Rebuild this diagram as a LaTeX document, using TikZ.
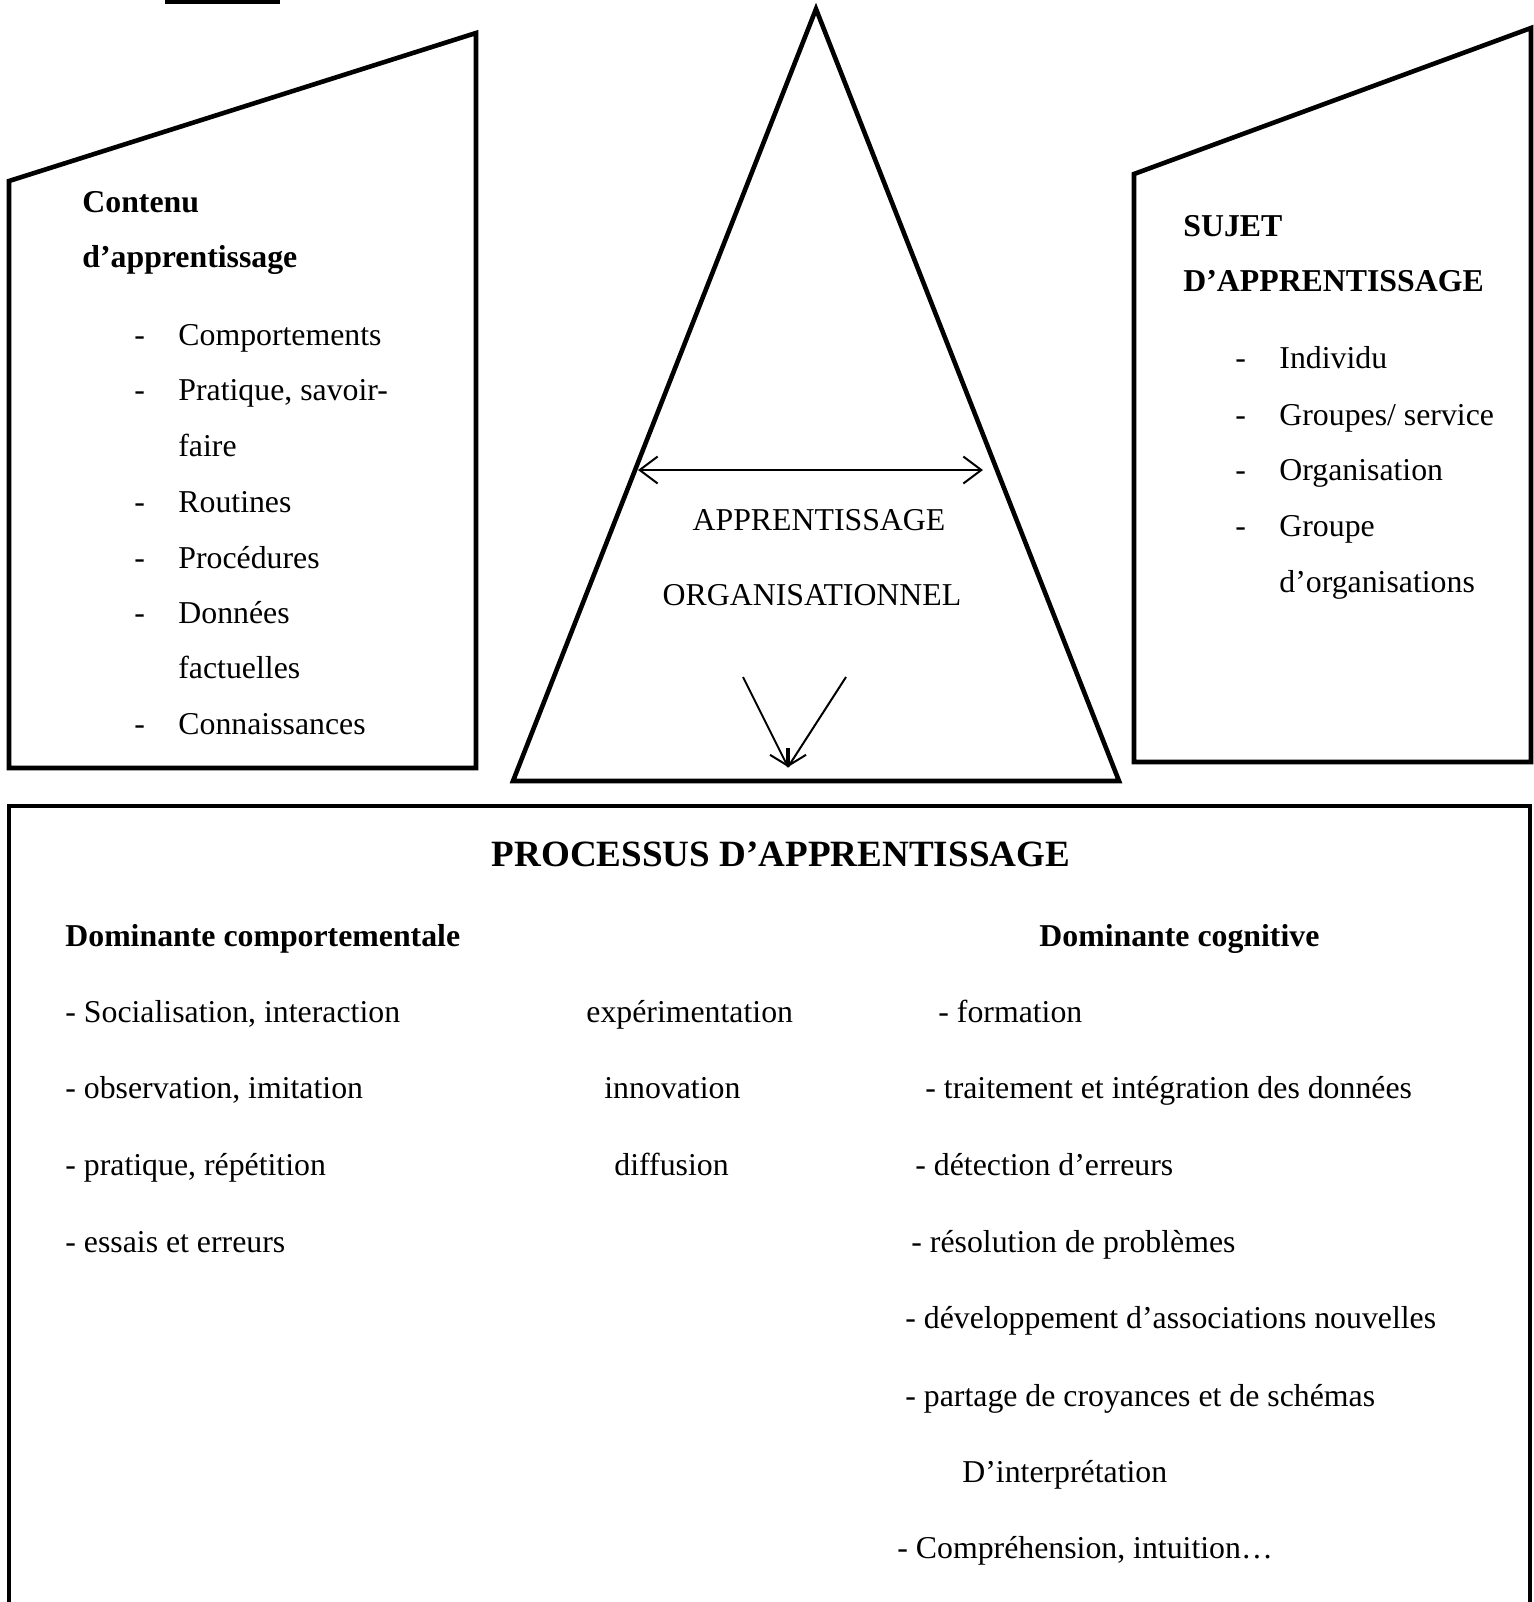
\documentclass[tikz,border=0pt]{standalone}
\usepackage{fontspec}
\setmainfont{Liberation Serif}
\usetikzlibrary{arrows.meta}
\tikzset{
  frame/.style={draw, line width=2.3pt, line join=miter},
  txt/.style={font=\fontsize{15.9}{19}\selectfont, anchor=base west, inner sep=0pt},
  bld/.style={txt, font=\fontsize{15.9}{19}\selectfont\bfseries},
  ttl/.style={font=\fontsize{18.55}{22}\selectfont\bfseries, anchor=base, inner sep=0pt},
  ctr/.style={font=\fontsize{15.9}{19}\selectfont, anchor=base, inner sep=0pt},
  thin/.style={draw, line width=1pt},
  barb/.style={-{Straight Barb[length=9pt,width=13.5pt,line width=1pt]}},
}
\begin{document}
\begin{tikzpicture}[x=0.5pt,y=-0.5pt]
\useasboundingbox (0,0) rectangle (1534,1602);

% underline of the heading above the figure
\fill (165,0) rectangle (280,4);

% left panel: learning content
\draw[frame] (9,768) -- (9,181) -- (476,33) -- (476,768) -- cycle;
\node[bld] (c1) at (82,212) {Contenu};
\node[bld] (c2) at (82,267) {d’apprentissage};
\foreach \y/\t in {345/Comportements, 400/{Pratique, savoir-}, 512/Routines,
                   568/Procédures, 623/Données, 734/Connaissances}
  \node[txt] at (134,\y) {-};
\foreach \y/\t in {345/Comportements, 400/{Pratique, savoir-}, 456/faire, 512/Routines,
                   568/Procédures, 623/Données, 678/factuelles, 734/Connaissances}
  \node[txt] at (178,\y) {\t};

% central triangle: organisational learning
\draw[frame] (513,781) -- (816,9) -- (1119,781) -- cycle;
\coordinate (hl) at (638,470);
\coordinate (hr) at (983,470);
\draw[thin, {Straight Barb[length=9pt,width=13.5pt,line width=1pt]}-{Straight Barb[length=9pt,width=13.5pt,line width=1pt]}] (hl) -- (hr);
\node[ctr] (a1) at (819,530) {APPRENTISSAGE};
\node[ctr] (a2) at (812,605) {ORGANISATIONNEL};
\coordinate (va) at (743,677);
\coordinate (vb) at (846,677);
\coordinate (vt) at (788,767);
\coordinate (vs) at (788,748);
\draw[thin] (va) -- (vt);
\draw[thin] (vb) -- (vt);
\draw[line width=2pt, -{Straight Barb[length=5.5pt,width=18pt,line width=1pt]}] (vs) -- (vt);

% right panel: learning subject
\draw[frame] (1134,762) -- (1134,174) -- (1531,28) -- (1531,762) -- cycle;
\node[bld] (s1) at (1183,236) {SUJET};
\node[bld] (s2) at (1183,291) {D’APPRENTISSAGE};
\foreach \y in {368,425,480,536}
  \node[txt] at (1235,\y) {-};
\foreach \y/\t in {368/Individu, 425/{Groupes/ service}, 480/Organisation, 536/Groupe, 592/d’organisations}
  \node[txt] at (1279,\y) {\t};

% bottom panel: learning processes
\draw[frame] (9,1604) -- (9,806) -- (1530,806) -- (1530,1604);
\node[ttl] (p) at (781,866) {PROCESSUS D’APPRENTISSAGE};
\node[bld] (d1) at (65,946) {Dominante comportementale};
\node[bld] (d2) at (1039,946) {Dominante cognitive};

\node[txt] at (65,1022) {- Socialisation, interaction};
\node[txt] at (65,1098) {- observation, imitation};
\node[txt] at (65,1175) {- pratique, répétition};
\node[txt] at (65,1252) {- essais et erreurs};

\node[txt] at (586,1022) {expérimentation};
\node[txt] at (604,1098) {innovation};
\node[txt] at (614,1175) {diffusion};

\node[txt] at (938,1022) {- formation};
\node[txt] at (925,1098) {- traitement et intégration des données};
\node[txt] at (915,1175) {- détection d’erreurs};
\node[txt] at (911,1252) {- résolution de problèmes};
\node[txt] at (905,1328) {- développement d’associations nouvelles};
\node[txt] at (905,1406) {- partage de croyances et de schémas};
\node[txt] at (962,1482) {D’interprétation};
\node[txt] at (897,1558) {- Compréhension, intuition…};
\end{tikzpicture}
\end{document}
